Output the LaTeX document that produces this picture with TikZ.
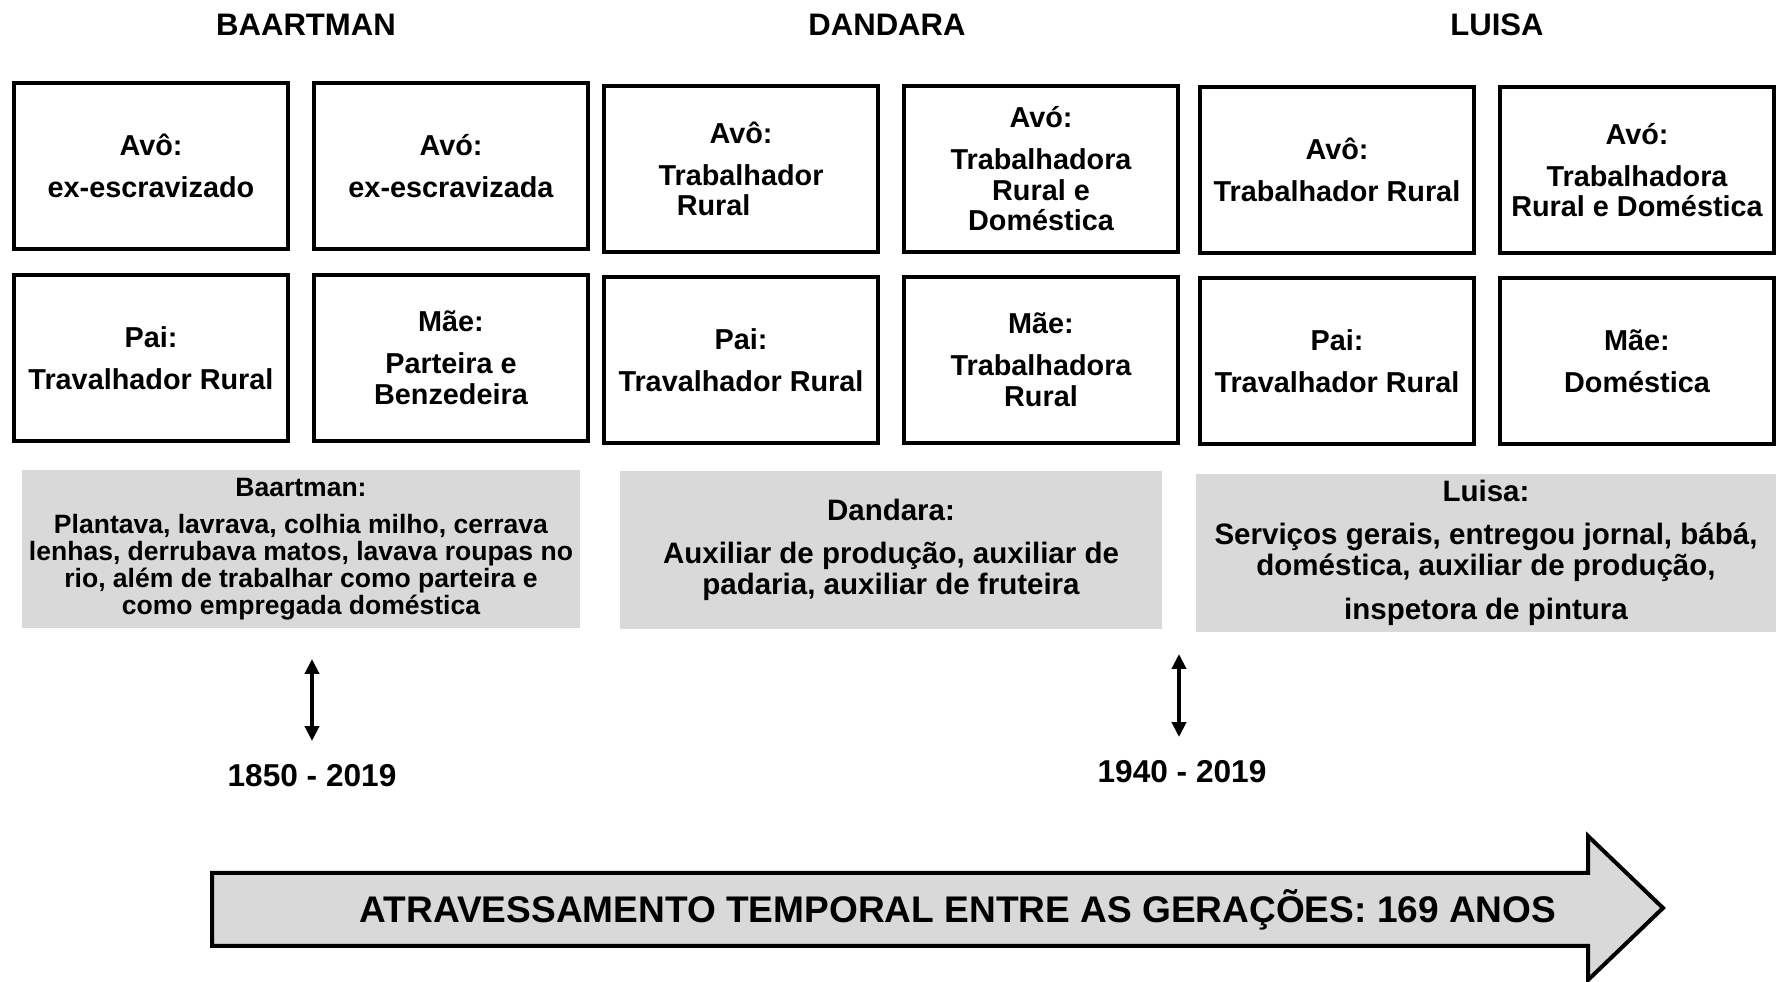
\documentclass[tikz,border=0pt]{standalone}
\usepackage{fontspec}
\setmainfont{Liberation Sans}
\usetikzlibrary{arrows.meta}
\definecolor{boxgray}{HTML}{D9D9D9}

\begin{document}
\begin{tikzpicture}[x=0.02cm,y=-0.02cm]
    \useasboundingbox (0,0) rectangle (1776,982);

    % names over the columns
    \begin{scope}[every node/.style={font=\bfseries\fontsize{17.7}{20}\selectfont}]
      \node (hbaartman) at (306,25) {BAARTMAN};
      \node (hdandara) at (887,25) {DANDARA};
      \node (hluisa) at (1497,25) {LUISA};
    \end{scope}

    % family boxes
    \begin{scope}[every node/.style={draw,line width=0.08cm,minimum width=5.5cm,
        minimum height=3.32cm,inner sep=0pt,align=center,
        font=\bfseries\fontsize{16.4}{17.4}\selectfont}]
      \node (avo1) at (151,166) {Avô:\\[6.5pt] ex-escravizado};
      \node (avoa1) at (451,166) {Avó:\\[6.5pt] ex-escravizada};
      \node (avo2) at (741,169) {Avô:\\[6.5pt] Trabalhador\\ Rural\hspace*{1.9em}};
      \node (avoa2) at (1041,169) {Avó:\\[6.5pt] Trabalhadora\\ Rural e\\ Doméstica};
      \node (avo3) at (1337,170) {Avô:\\[6.5pt] Trabalhador Rural};
      \node (avoa3) at (1637,170) {Avó:\\[6.5pt] Trabalhadora\\ Rural e Doméstica};

      \node (pai1) at (151,358) {Pai:\\[6.5pt] Travalhador Rural};
      \node (mae1) at (451,358) {Mãe:\\[6.5pt] Parteira e\\ Benzedeira};
      \node (pai2) at (741,360) {Pai:\\[6.5pt] Travalhador Rural};
      \node (mae2) at (1041,360) {Mãe:\\[6.5pt] Trabalhadora\\ Rural};
      \node (pai3) at (1337,361) {Pai:\\[6.5pt] Travalhador Rural};
      \node (mae3) at (1637,361) {Mãe:\\[6.5pt] Doméstica};
    \end{scope}

    % what each one did
    \begin{scope}[every node/.style={fill=boxgray,inner sep=0pt,align=center,
        minimum height=3.15cm,font=\bfseries\fontsize{16.8}{17.35}\selectfont}]
      \node[minimum width=11.17cm,font=\bfseries\fontsize{15.1}{15.3}\selectfont]
        (wbaartman) at (301,549) {Baartman:\\[6.2pt] Plantava, lavrava, colhia milho, cerrava\\
        lenhas, derrubava matos, lavava roupas no\\ rio, além de trabalhar como parteira e\\
        como empregada doméstica};
      \node[minimum width=10.85cm] (wdandara) at (891,550)
        {Dandara:\\[7pt] Auxiliar de produção, auxiliar de\\ padaria, auxiliar de fruteira};
      \node[minimum width=11.62cm] (wluisa) at (1486,553)
        {Luisa:\\[7pt] Serviços gerais, entregou jornal, bábá,\\ doméstica, auxiliar de produção,\\[7.7pt]
        inspetora de pintura};
    \end{scope}

    % periods
    \coordinate (p1top) at (312,659);
    \coordinate (p1bot) at (312,741);
    \coordinate (p2top) at (1179,654);
    \coordinate (p2bot) at (1179,737);
    \begin{scope}[every node/.style={font=\bfseries\fontsize{18}{20}\selectfont}]
      \node (y1) at (312,776) {1850 - 2019};
      \node (y2) at (1182,772) {1940 - 2019};
    \end{scope}
    \begin{scope}[>={Triangle[length=8.5pt,width=8pt]},line width=2.2pt]
      \draw [<->] (p1top) -- (p1bot);
      \draw [<->] (p2top) -- (p2bot);
    \end{scope}

    % time arrow
    \draw [line width=0.08cm,fill=boxgray] (212,873) -- (1588,873) -- (1588,836)
      -- (1663,908) -- (1588,980) -- (1588,946) -- (212,946) -- cycle;
    \node [font=\bfseries\fontsize{21.1}{24}\selectfont] (span) at (958,910)
      {ATRAVESSAMENTO TEMPORAL ENTRE AS GERAÇÕES: 169 ANOS};
\end{tikzpicture}
\end{document}
